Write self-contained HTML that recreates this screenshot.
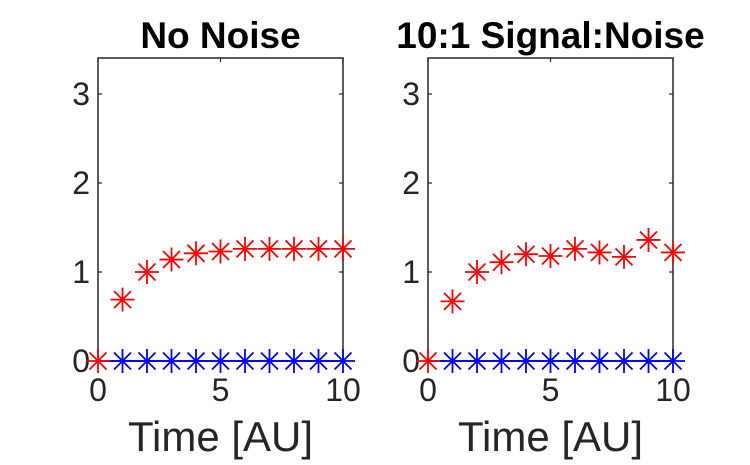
<!DOCTYPE html>
<html><head><meta charset="utf-8"><style>
html,body{margin:0;padding:0;background:#fff;width:750px;height:465px;overflow:hidden}
svg{display:block;font-family:"Liberation Sans",Arial,sans-serif}
</style></head><body>
<svg id="chart" width="750" height="465"></svg>
<script>
const times = [0,1,2,3,4,5,6,7,8,9,10];
const redNoNoise = [0,0.69,1.0,1.14,1.21,1.23,1.26,1.26,1.26,1.26,1.26];
const redNoisy = [0,0.67,1.0,1.11,1.2,1.18,1.26,1.22,1.17,1.36,1.22];
const blueNoNoise = [0,0,0,0,0,0,0,0,0,0,0];
const blueNoisy = [0,0,0,0,0,0,0,0,0,0,0];
const xTicks = [0,5,10];
const yTicks = [0,1,2,3];
const titles = ["No Noise","10:1 Signal:Noise"];

const NS="http://www.w3.org/2000/svg";
const svg=document.getElementById('chart');
function mk(tag,attrs,parent){const e=document.createElementNS(NS,tag);for(const k in attrs)e.setAttribute(k,attrs[k]);(parent||svg).appendChild(e);return e;}

const panels=[{x0:98,x1:343,title:titles[0],red:redNoNoise,blue:blueNoNoise,name:'no-noise'},
              {x0:428,x1:673,title:titles[1],red:redNoisy,blue:blueNoisy,name:'noisy'}];
const yTop=58,yZero=361,yMax=(361-58)/89;
panels.forEach(p=>{
  const g=mk('g',{});
  
  
  const sx=v=>p.x0+(v-0)/10*(p.x1-p.x0);
  const sy=v=>yZero-v/yMax*(yZero-yTop);
  const box=mk('rect',{x:p.x0,y:yTop,width:p.x1-p.x0,height:yZero-yTop,fill:'none',stroke:'#262626','stroke-width':1.5},g);
  
  
  yTicks.forEach(t=>{
    const y=sy(t);
    mk('line',{x1:p.x0,x2:p.x0+4,y1:y,y2:y,stroke:'#262626','stroke-width':1.2},g);
    mk('line',{x1:p.x1,x2:p.x1-4,y1:y,y2:y,stroke:'#262626','stroke-width':1.2},g);
    const tl=mk('text',{x:p.x0-8,y:y+11,'text-anchor':'end','font-size':32,fill:'#262626'},g);
    tl.textContent=t;
    
    
  });
  xTicks.forEach(t=>{
    const x=sx(t);
    mk('line',{x1:x,x2:x,y1:yTop,y2:yTop+4,stroke:'#262626','stroke-width':1.2},g);
    const tl=mk('text',{x:x,y:yZero+40,'text-anchor':'middle','font-size':32,fill:'#262626'},g);
    tl.textContent=t;
    
    
  });
  const ti=mk('text',{x:(p.x0+p.x1)/2,y:48,'text-anchor':'middle','font-size':37,'font-weight':'bold',fill:'#000'},g);
  ti.textContent=p.title;
  
  
  const xl=mk('text',{x:(p.x0+p.x1)/2,y:451,'text-anchor':'middle','font-size':42,fill:'#262626'},g);
  xl.textContent='Time [AU]';
  
  
  const bl=mk('polyline',{points:times.map((t,i)=>sx(t)+','+sy(p.blue[i])).join(' '),fill:'none',stroke:'#0000ff','stroke-width':1.8},g);
  
  
  function star(x,y,c){
    const s=mk('g',{stroke:c,'stroke-width':1.8},g);
    
    
    const r=12,d=8.5;
    mk('line',{x1:x-r,x2:x+r,y1:y,y2:y},s);
    mk('line',{x1:x,x2:x,y1:y-r,y2:y+r},s);
    mk('line',{x1:x-d,x2:x+d,y1:y-d,y2:y+d},s);
    mk('line',{x1:x-d,x2:x+d,y1:y+d,y2:y-d},s);
  }
  times.forEach((t,i)=>{ if(i>0) star(sx(t),sy(p.blue[i]),'#0000ff'); });
  times.forEach((t,i)=>star(sx(t),sy(p.red[i]),'#ff0000'));
});
</script>
</body></html>
